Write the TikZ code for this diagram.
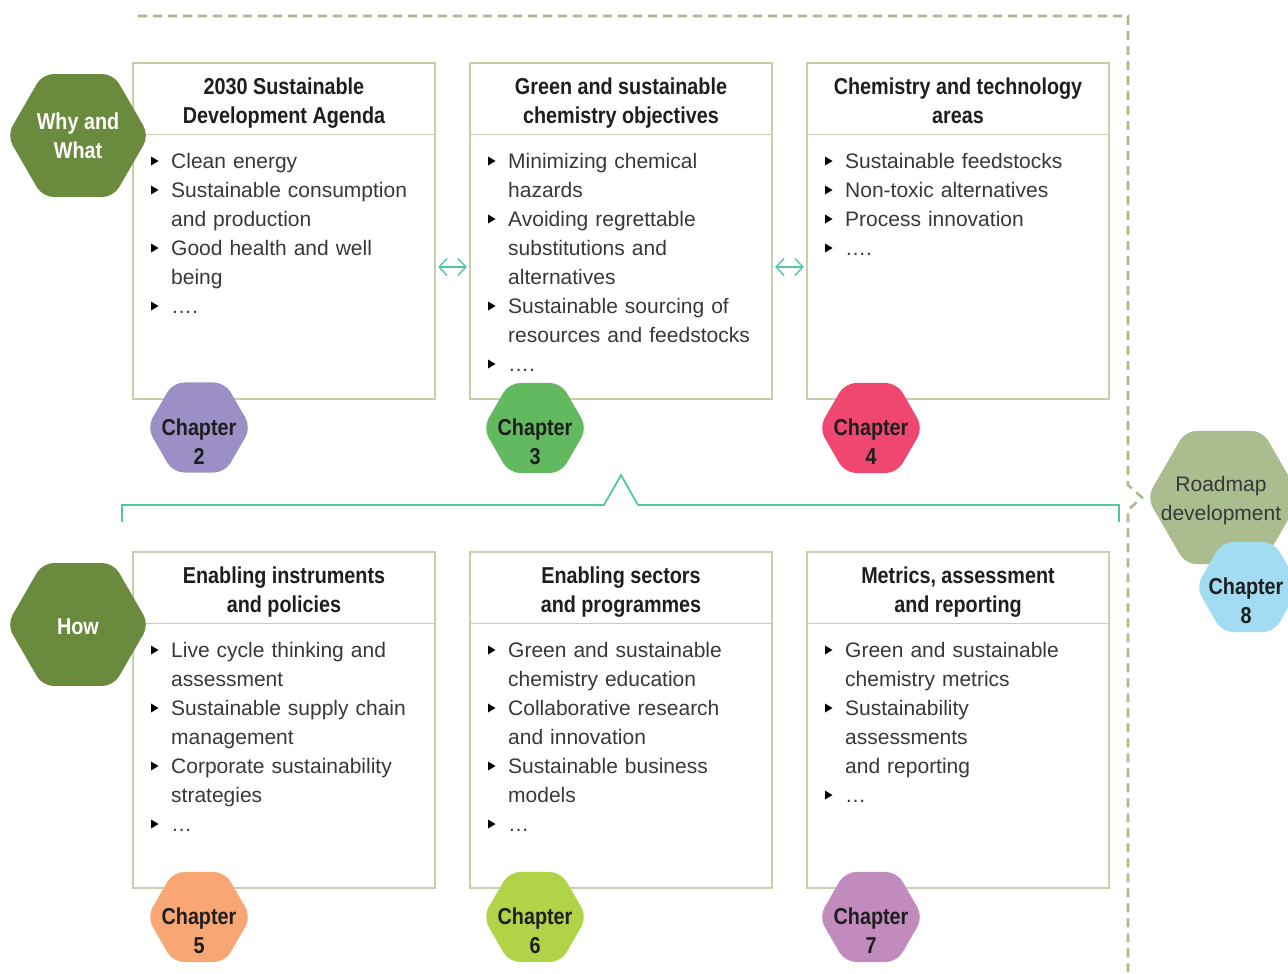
\documentclass[tikz,border=0pt]{standalone}
\usepackage{fontspec}
\setmainfont{Liberation Sans}
\newfontfamily\condfont{Liberation Sans}[FakeStretch=0.86]
\usetikzlibrary{shapes.geometric,arrows.meta}
\definecolor{boxc}{HTML}{C4D0AA}
\definecolor{dashc}{HTML}{A9BC8C}
\definecolor{tealc}{HTML}{52C8A0}
\definecolor{whyc}{HTML}{6A8A3D}
\definecolor{roadc}{HTML}{AABD8F}
\definecolor{chtwo}{HTML}{9C8FC6}
\definecolor{chthree}{HTML}{63B95F}
\definecolor{chfour}{HTML}{EF476F}
\definecolor{chfive}{HTML}{F8A674}
\definecolor{chsix}{HTML}{B1D347}
\definecolor{chseven}{HTML}{C28BBE}
\definecolor{cheight}{HTML}{A2DCF2}
\definecolor{headc}{HTML}{1E1E1E}
\definecolor{itemc}{HTML}{383838}
\newcommand\itemfont{\fontsize{21}{29}\selectfont}
\newcommand\headfont{\condfont\bfseries\fontsize{23}{29}\selectfont}
\tikzset{
  box/.style={draw=boxc, line width=1.2pt, minimum width=302pt, minimum height=336pt, inner sep=0pt},
  divline/.style={draw=boxc, line width=1.2pt},
  hexn/.style={regular polygon, regular polygon sides=6, inner sep=0pt, rounded corners=11pt},
  headtxt/.style={font=\headfont, text=headc, align=center, anchor=north, inner sep=0pt},
  whytxt/.style={font=\headfont, text=white, align=center, anchor=north, inner sep=0pt},
  roadtxt/.style={font=\itemfont, text=itemc, align=center, anchor=north, inner sep=0pt},
  itemtxt/.style={font=\itemfont, text=itemc, text width=270pt, align=left, anchor=north west, inner sep=0pt},
  dblarrow/.style={draw=tealc, line width=1.4pt, {Straight Barb[length=8pt,width=17pt]}-{Straight Barb[length=8pt,width=17pt]}, shorten <=2.5pt, shorten >=2.5pt},
  bracket/.style={draw=tealc, line width=1.8pt},
  dashline/.style={draw=dashc, line width=2.6pt, dash pattern=on 9pt off 6pt},
}
\newcommand\bitem[4]{%
  \fill[black] (#2,#3-11.5) -- (#2+7.5,#3-7) -- (#2,#3-2.5) -- cycle;
  \node[itemtxt] (#1) at (#2+20,#3-20.3) {\strut #4};}
\begin{document}
\begin{tikzpicture}[x=1pt,y=-1pt]
\useasboundingbox (0,0) rectangle (1288,974);
\clip (0,0) rectangle (1288,974);

% dashed frame line
\draw[dashline] (138,16) -- (1128,16) -- (1128,485) -- (1142,497.5) -- (1128,510) -- (1128,980);

% boxes
\node[box] (b1) at (284,231) {};
\node[box] (b2) at (621,231) {};
\node[box] (b3) at (958,231) {};
\node[box] (b4) at (284,720) {};
\node[box] (b5) at (621,720) {};
\node[box] (b6) at (958,720) {};
\foreach \b in {b1,b2,b3,b4,b5,b6}{
  \draw[divline] ([yshift=-72pt]\b.north west) -- ([yshift=-72pt]\b.north east);
}

% headers
\node[headtxt] (h1) at (284,73.7) {\strut 2030 Sustainable\\Development Agenda};
\node[headtxt] (h2) at (621,73.7) {\strut Green and sustainable\\chemistry objectives};
\node[headtxt] (h3) at (958,73.7) {\strut Chemistry and technology\\areas};
\node[headtxt] (h4) at (284,562.7) {\strut Enabling instruments\\and policies};
\node[headtxt] (h5) at (621,562.7) {\strut Enabling sectors\\and programmes};
\node[headtxt] (h6) at (958,562.7) {\strut Metrics, assessment\\and reporting};

% items box 1
\bitem{i11}{151}{168}{Clean energy}
\bitem{i12}{151}{197}{Sustainable consumption\\and production}
\bitem{i13}{151}{255}{Good health and well\\being}
\bitem{i14}{151}{313}{….}
% items box 2
\bitem{i21}{488}{168}{Minimizing chemical\\hazards}
\bitem{i22}{488}{226}{Avoiding regrettable\\substitutions and\\alternatives}
\bitem{i23}{488}{313}{Sustainable sourcing of\\resources and feedstocks}
\bitem{i24}{488}{371}{….}
% items box 3
\bitem{i31}{825}{168}{Sustainable feedstocks}
\bitem{i32}{825}{197}{Non-toxic alternatives}
\bitem{i33}{825}{226}{Process innovation}
\bitem{i34}{825}{255}{….}
% items box 4
\bitem{i41}{151}{657}{Live cycle thinking and\\assessment}
\bitem{i42}{151}{715}{Sustainable supply chain\\management}
\bitem{i43}{151}{773}{Corporate sustainability\\strategies}
\bitem{i44}{151}{831}{…}
% items box 5
\bitem{i51}{488}{657}{Green and sustainable\\chemistry education}
\bitem{i52}{488}{715}{Collaborative research\\and innovation}
\bitem{i53}{488}{773}{Sustainable business\\models}
\bitem{i54}{488}{831}{…}
% items box 6
\bitem{i61}{825}{657}{Green and sustainable\\chemistry metrics}
\bitem{i62}{825}{715}{Sustainability\\assessments\\and reporting}
\bitem{i63}{825}{802}{…}

% arrows between top boxes
\draw[dblarrow] ([yshift=-36pt]b1.east) -- ([yshift=-36pt]b2.west);
\draw[dblarrow] ([yshift=-36pt]b2.east) -- ([yshift=-36pt]b3.west);

% bracket
\draw[bracket] (122,522) -- (122,505) -- (604,505) -- (621,475) -- (638,505) -- (1119,505) -- (1119,522);

% side hexagons
\node[hexn, fill=whyc, minimum size=142pt] (why) at (78,135.5) {};
\node[whytxt] (whyt) at (78,108.7) {\strut Why and\\What};
\node[hexn, fill=whyc, minimum size=142pt] (how) at (78,624.5) {};
\node[whytxt] (howt) at (78,613.7) {\strut How};

% chapter hexagons
\node[hexn, fill=chtwo, minimum size=104pt] (c2) at (199,427.5) {};
\node[headtxt] (c2t) at (199,414.7) {\strut Chapter\\2};
\node[hexn, fill=chthree, minimum size=104pt] (c3) at (535,428) {};
\node[headtxt] (c3t) at (535,414.7) {\strut Chapter\\3};
\node[hexn, fill=chfour, minimum size=104pt] (c4) at (871,428) {};
\node[headtxt] (c4t) at (871,414.7) {\strut Chapter\\4};
\node[hexn, fill=chfive, minimum size=104pt] (c5) at (199,917) {};
\node[headtxt] (c5t) at (199,903.7) {\strut Chapter\\5};
\node[hexn, fill=chsix, minimum size=104pt] (c6) at (535,917) {};
\node[headtxt] (c6t) at (535,903.7) {\strut Chapter\\6};
\node[hexn, fill=chseven, minimum size=104pt] (c7) at (871,917) {};
\node[headtxt] (c7t) at (871,903.7) {\strut Chapter\\7};

% roadmap
\node[hexn, fill=roadc, minimum size=154pt] (road) at (1224,497.5) {};
\node[roadtxt] (roadt) at (1221,471.2) {\strut Roadmap\\development};
\node[hexn, fill=cheight, minimum size=104pt] (c8) at (1248,587) {};
\node[headtxt] (c8t) at (1246,573.7) {\strut Chapter\\8};
\end{tikzpicture}
\end{document}
